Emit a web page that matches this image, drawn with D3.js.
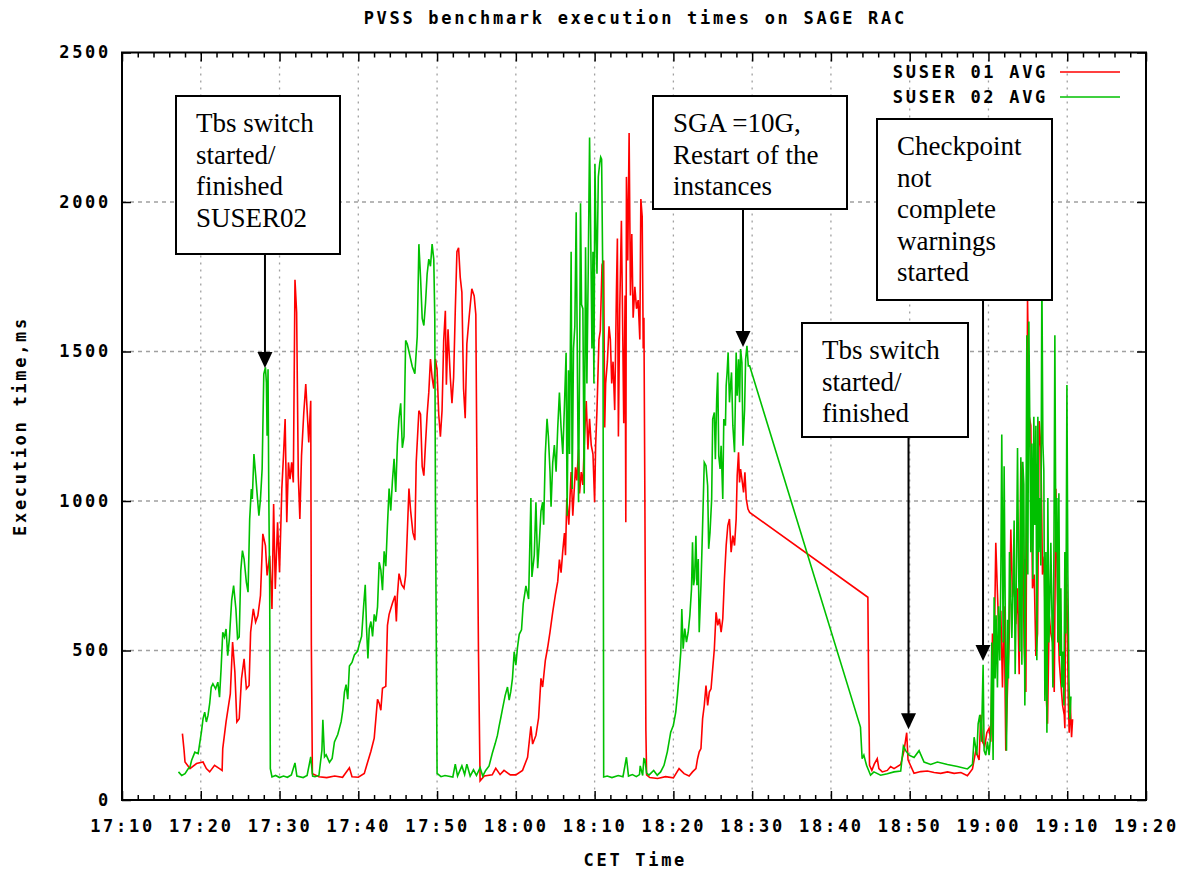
<!DOCTYPE html>
<html>
<head>
<meta charset="utf-8">
<script src="https://cdn.jsdelivr.net/npm/d3@7"></script>
<style>
body { margin: 0; background: #fff; }
.mono { font-family: "DejaVu Sans Mono", monospace; font-weight: bold; font-size: 17px; letter-spacing: 2.7px; fill: #000; }
.note { font-family: "Liberation Serif", "Times New Roman", serif; font-size: 27px; fill: #000; }
</style>
</head>
<body>
<div id="wrapper"></div>
<script>
const title = "PVSS benchmark execution times on SAGE RAC";
const xLabel = "CET Time";
const yLabel = "Execution time,ms";
const seriesNames = ["SUSER 01 AVG", "SUSER 02 AVG"];
const seriesColors = ["#ff0000", "#00c000"];
const xTickLabels = ["17:10", "17:20", "17:30", "17:40", "17:50", "18:00", "18:10",
    "18:20", "18:30", "18:40", "18:50", "19:00", "19:10", "19:20"];
const yTickValues = [0, 500, 1000, 1500, 2000, 2500];

// [minutes after 17:00, execution time ms]
const suser01 = [[17.67,222],[17.88,166],[18.0,127],[18.63,105],[19.46,122],[20.29,127],[20.71,105],[21.13,94],[21.75,116],[22.38,105],[22.71,99],[22.79,172],[23.21,261],[23.75,355],[24.04,528],[24.33,428],[24.58,261],[24.88,272],[25.17,405],[25.5,472],[25.79,372],[26.13,383],[26.33,561],[26.67,639],[26.96,595],[27.25,617],[27.58,684],[27.88,890],[28.21,851],[28.42,751],[28.75,817],[29.04,639],[29.25,990],[29.46,706],[29.75,929],[30.0,762],[30.29,1040],[30.5,1151],[30.71,1274],[30.92,929],[31.13,1129],[31.33,1073],[31.54,1129],[31.75,1062],[31.96,1740],[32.17,1630],[32.38,1085],[32.58,940],[32.79,1151],[33.08,1296],[33.33,1391],[33.54,1285],[33.71,1196],[33.96,1335],[34.04,517],[34.17,88],
    [35.0,78],[36.0,75],[37.0,80],[38.0,76],[38.87,108],[39.2,78],[40.0,76],[40.76,89],[41.18,126],[41.6,163],[42.02,207],[42.44,337],[42.65,324],[42.86,300],[43.07,374],[43.49,380],[43.7,584],[43.91,621],[44.33,658],[44.66,683],[44.83,597],[44.96,683],[45.17,757],[45.5,720],[45.8,708],[46.01,751],[46.22,894],[46.43,1042],[46.64,968],[46.93,894],[47.18,869],[47.35,1129],[47.69,1302],[47.9,1290],[48.11,1116],[48.32,1085],[48.53,1191],[48.74,1290],[48.95,1364],[49.16,1475],[49.37,1413],[49.58,1376],[49.79,1475],[50.0,1438],[50.21,1290],[50.42,1215],[50.63,1302],[50.84,1537],[51.05,1636],[51.18,1389],[51.39,1574],[51.68,1413],[51.89,1327],[52.1,1413],[52.31,1636],[52.52,1834],[52.73,1847],[52.94,1748],[53.15,1698],[53.36,1376],[53.57,1277],[53.78,1525],[54.08,1618],[54.41,1710],[54.71,1686],[54.92,1624],[55.04,1178],[55.25,510],[55.46,64],
    [56.0,80],[57.0,84],[57.45,106],[58.0,85],[58.5,99],[59.3,84],[60.0,84],[60.85,99],[61.49,143],[61.91,246],[62.13,187],[62.55,216],[62.89,275],[63.19,407],[63.4,378],[63.74,466],[64.04,510],[64.34,562],[64.68,628],[65.02,687],[65.32,731],[65.53,804],[65.74,760],[65.96,834],[66.17,893],[66.3,819],[66.47,1009],[66.72,921],[67.02,1097],[67.23,951],[67.57,1113],[67.74,1069],[67.96,1172],[68.09,1025],[68.3,1097],[68.51,1054],[68.72,1216],[68.94,1334],[69.15,1172],[69.36,1275],[69.57,1187],[69.79,1157],[70.0,996],[70.13,1187],[70.3,1304],[70.55,1540],[70.72,1569],[70.94,1790],[71.15,1804],[71.28,1246],[71.4,1393],[71.62,1466],[71.83,1584],[72.0,1540],[72.17,1393],[72.34,1466],[72.55,1304],[72.77,1701],[72.89,1878],[73.02,1216],[73.19,1643],[73.4,1937],[73.53,1657],[73.7,1260],[73.87,1687],[73.96,929],[74.04,2084],[74.21,1804],[74.38,2231],[74.55,1687],[74.72,1893],[74.89,1613],[75.11,1716],[75.32,1643],[75.53,1672],[75.74,1540],[75.87,2010],[76.04,1951],[76.17,1510],[76.26,1613],[76.38,1010],[76.51,231],[76.6,84],
    [77.0,75],[78.0,72],[79.0,78],[80.0,74],[80.72,105],[81.36,88],[82.0,80],[82.43,94],[82.86,105],[83.07,138],[83.28,161],[83.5,172],[83.71,272],[83.92,316],[84.14,383],[84.35,316],[84.56,361],[84.78,372],[84.99,439],[85.2,506],[85.42,628],[85.63,584],[85.84,606],[86.06,561],[86.27,606],[86.48,740],[86.7,851],[86.91,918],[87.12,940],[87.33,829],[87.55,884],[87.76,851],[87.97,940],[88.1,1085],[88.27,1163],[88.4,1062],[88.53,1107],[88.7,1074],[88.91,1029],[89.08,1096],[89.25,1007],[89.47,973],[89.68,962],
    [104.69,678],[104.78,405],[104.9,116],[105.2,99],[105.5,120],[105.88,138],[106.09,105],[106.52,94],[107.16,99],[107.58,112],[108.01,105],[108.86,119],[109.28,165],[109.62,225],[109.79,134],[110.55,89],[111.4,95],[112.25,97],[113.1,92],[113.94,89],[114.8,94],[115.64,89],[116.5,92],[117.33,81],[117.97,104],[118.39,165],[118.81,134],[119.03,285],[119.24,195],[119.53,180],[119.79,225],[120.08,240],[120.3,195],[120.51,557],[120.72,467],[120.93,860],[121.14,693],[121.36,527],[121.57,633],[121.78,376],[121.99,648],[122.2,165],[122.42,376],[122.63,542],[122.84,905],[123.05,678],[123.26,739],[123.47,588],[123.69,708],[123.9,421],[124.11,1131],[124.32,950],[124.53,512],[124.75,361],[124.96,1675],[125.17,1283],[125.38,1252],[125.59,708],[125.81,754],[126.02,482],[126.23,557],[126.44,1267],[126.65,1177],[126.86,754],[127.08,814],[127.29,376],[127.5,255],[127.71,618],[127.92,557],[128.14,527],[128.35,361],[128.56,1041],[128.77,678],[128.98,467],[129.19,391],[129.41,316],[129.62,285],[129.7,240],[129.83,822],[129.96,678],[130.13,346],[130.25,225],[130.38,331],[130.55,210],[130.68,270]];

const suser02 = [[17.17,94],[17.58,82],[18.0,88],[18.42,105],[18.63,110],[18.83,132],[19.25,160],[19.67,155],[20.08,227],[20.29,272],[20.5,294],[20.71,261],[20.92,283],[21.13,322],[21.33,377],[21.54,389],[21.88,372],[22.17,394],[22.38,344],[22.58,439],[22.79,561],[23.0,545],[23.21,572],[23.42,483],[23.63,539],[23.92,667],[24.17,717],[24.46,639],[24.67,539],[24.88,545],[25.08,767],[25.29,834],[25.5,806],[25.79,728],[26.0,695],[26.21,940],[26.42,1040],[26.54,1007],[26.75,1157],[26.96,1090],[27.17,1018],[27.38,951],[27.58,1007],[27.79,1107],[28.0,1424],[28.21,1447],[28.33,1396],[28.42,1218],[28.54,1441],[28.63,1040],[28.75,706],[28.83,105],[29.04,77],[29.5,82],[30.0,75],[30.5,80],[31.0,76],[31.5,84],[31.96,124],[32.2,80],[33.0,75],[33.5,82],[33.96,144],[34.2,80],[34.5,78],[35.0,82],[35.38,167],[35.5,268],[35.71,144],
    [35.92,151],[36.34,126],[36.68,139],[36.97,194],[37.39,219],[37.82,262],[38.03,300],[38.24,361],[38.45,386],[38.66,337],[38.87,448],[39.2,460],[39.5,485],[39.92,498],[40.13,522],[40.42,547],[40.67,646],[40.88,720],[41.05,572],[41.22,473],[41.39,572],[41.6,597],[41.81,547],[42.02,621],[42.23,597],[42.44,646],[42.65,795],[42.86,770],[43.07,702],[43.28,832],[43.49,782],[43.7,918],[43.91,1042],[44.12,968],[44.33,1067],[44.54,1141],[44.75,1030],[44.96,1191],[45.17,1277],[45.38,1327],[45.59,1178],[45.8,1215],[46.01,1537],[46.22,1525],[46.43,1500],[46.85,1450],[47.18,1426],[47.48,1550],[47.69,1859],[47.9,1748],[48.11,1611],[48.32,1587],[48.53,1661],[48.74,1760],[48.95,1809],[49.16,1785],[49.37,1859],[49.58,1809],[49.71,1611],[49.79,1017],[50.0,89],[50.5,78],[51.0,82],[52.0,77],[52.31,120],[52.6,80],[53.15,114],[53.5,85],[53.78,120],[54.2,80],[54.62,101],[55.0,82],[55.46,108],[55.8,80],
    [56.17,99],[56.6,114],[57.02,157],[57.36,187],[57.66,216],[57.87,246],[58.09,275],[58.3,304],[58.64,349],[58.94,378],[59.15,334],[59.36,363],[59.57,407],[59.79,496],[60.0,451],[60.21,510],[60.43,554],[60.72,569],[60.94,657],[61.28,716],[61.62,672],[61.91,1010],[62.04,746],[62.34,819],[62.55,996],[62.77,775],[62.98,863],[63.19,966],[63.4,996],[63.53,921],[63.74,1157],[63.96,1275],[64.13,1216],[64.34,1098],[64.47,981],[64.68,1128],[64.89,1187],[65.11,1098],[65.32,1246],[65.53,1363],[65.74,1246],[65.96,1157],[66.17,1319],[66.38,1496],[66.51,951],[66.68,1437],[66.81,1157],[67.02,1834],[67.15,1040],[67.32,1510],[67.49,1584],[67.66,1966],[67.83,1393],[67.96,996],[68.09,1451],[68.21,1996],[68.34,1657],[68.51,1643],[68.68,1025],[68.85,1849],[69.02,1393],[69.19,1775],[69.36,2216],[69.53,1834],[69.66,1510],[69.79,1834],[69.91,1393],[70.04,2128],[70.17,1907],[70.3,1760],[70.47,2084],[70.64,2128],[70.77,2150],[70.89,2143],[71.06,1687],[71.15,77],[71.6,80],[72.2,75],[73.0,82],[73.6,78],[74.04,143],[74.3,80],[74.8,85],[75.3,78],[75.7,85],[75.79,114],[76.1,82],[76.25,138],[76.38,136],[76.6,90],
    [76.9,83],[77.5,99],[77.95,83],[78.38,94],[78.81,116],[79.23,161],[79.66,227],[80.0,250],[80.3,294],[80.51,350],[80.72,417],[80.94,495],[81.07,639],[81.24,506],[81.45,573],[81.66,528],[81.88,561],[82.09,617],[82.3,706],[82.43,862],[82.56,718],[82.69,740],[82.86,884],[82.99,718],[83.16,806],[83.28,561],[83.5,718],[83.71,918],[83.92,1129],[84.14,1118],[84.35,1051],[84.48,840],[84.65,895],[84.86,1007],[84.99,1274],[85.2,1296],[85.33,1140],[85.5,1341],[85.63,1430],[85.76,1151],[85.93,1107],[86.06,1185],[86.27,1007],[86.4,1274],[86.61,1252],[86.7,1385],[86.82,1430],[86.95,1497],[87.12,1330],[87.25,1385],[87.38,1430],[87.55,1252],[87.76,1163],[87.97,1497],[88.1,1352],[88.27,1474],[88.4,1330],[88.53,1508],[88.7,1463],[88.83,1185],[89.04,1307],[89.17,1474],[89.34,1519],[89.51,1452],[89.68,1452],
    [103.75,244],[103.96,138],[104.18,150],[104.52,116],[105.03,83],[105.46,94],[106.31,83],[107.16,88],[108.01,94],[108.86,97],[109.2,180],[109.49,165],[109.92,150],[110.55,142],[111.19,165],[111.82,127],[112.67,119],[113.52,127],[114.79,119],[116.06,112],[117.33,104],[117.97,119],[118.18,210],[118.52,150],[118.69,255],[118.9,285],[119.11,195],[119.32,452],[119.45,165],[119.66,150],[119.87,195],[120.08,150],[120.3,225],[120.42,527],[120.59,134],[120.72,678],[120.85,406],[120.97,618],[121.14,376],[121.27,648],[121.44,467],[121.57,754],[121.69,1222],[121.86,527],[121.99,1116],[122.16,527],[122.29,165],[122.42,603],[122.54,406],[122.67,829],[122.84,678],[122.97,542],[123.14,739],[123.26,935],[123.39,421],[123.52,678],[123.69,1177],[123.81,814],[123.98,497],[124.11,1146],[124.24,452],[124.36,1131],[124.49,1056],[124.62,316],[124.75,829],[124.87,1554],[125.0,754],[125.13,1600],[125.25,1252],[125.38,829],[125.51,1192],[125.64,739],[125.76,1282],[125.89,920],[126.02,1252],[126.14,467],[126.27,1282],[126.4,829],[126.53,1010],[126.65,784],[126.78,1760],[126.91,1192],[127.03,1101],[127.16,331],[127.29,829],[127.42,225],[127.54,1010],[127.67,527],[127.8,678],[127.92,860],[128.05,633],[128.18,376],[128.31,829],[128.43,1554],[128.56,829],[128.69,1010],[128.81,527],[128.94,1026],[129.07,482],[129.19,708],[129.32,376],[129.45,497],[129.58,316],[129.7,829],[129.83,557],[129.96,1388],[130.08,754],[130.21,406],[130.34,270],[130.47,346]];

// annotation texts and where their arrows point (minutes after 17:00, ms)
const noteTexts = [
    ["Tbs switch", "started/", "finished", "SUSER02"],
    ["SGA =10G,", "Restart of the", "instances"],
    ["Checkpoint", "not", "complete", "warnings", "started"],
    ["Tbs switch", "started/", "finished"]
];
const noteTargets = [[28.15, 1445], [88.84, 1515], [119.31, 465], [109.85, 237]];

const dims = { width: 1182, height: 871, left: 122, right: 1146, top: 52.5, bottom: 800 };
const noteBoxes = [
    { x: 176, y: 96, w: 164, h: 158 },
    { x: 653, y: 96, w: 194, h: 113 },
    { x: 877, y: 119, w: 175, h: 181 },
    { x: 802, y: 323, w: 166, h: 114 }
];

const parseTime = d3.timeParse("%H:%M");
const t0 = parseTime("17:00");
const toDate = m => new Date(t0.getTime() + m * 60000);

const xTicks = xTickLabels.map(parseTime);
const x = d3.scaleTime()
    .domain([xTicks[0], xTicks[xTicks.length - 1]])
    .range([dims.left, dims.right]);
const y = d3.scaleLinear().domain([0, 2500]).range([dims.bottom, dims.top]);

const svg = d3.select("#wrapper").append("svg")
    .attr("width", dims.width)
    .attr("height", dims.height)
    .style("display", "block")
    .style("background", "#fff");

// grid
const grid = svg.append("g").attr("stroke", "#a0a0a0").attr("stroke-width", 1.3);
grid.selectAll(".vg").data(xTicks.slice(1, -1)).join("line")
    .attr("x1", d => x(d)).attr("x2", d => x(d))
    .attr("y1", dims.top).attr("y2", dims.bottom)
    .attr("stroke-dasharray", "2,5");
grid.selectAll(".hg").data(yTickValues.slice(1, -1)).join("line")
    .attr("x1", dims.left).attr("x2", dims.right)
    .attr("y1", d => y(d)).attr("y2", d => y(d))
    .attr("stroke-dasharray", "4,4");

// data
const line = d3.line().x(d => x(toDate(d[0]))).y(d => y(d[1]));
[suser01, suser02].forEach((s, i) => {
    svg.append("path")
        .datum(s)
        .attr("d", line)
        .attr("fill", "none")
        .attr("stroke", seriesColors[i])
        .attr("stroke-width", 1.6);
});

// axes
const minorTicks = d3.timeMinute.every(2).range(xTicks[0], xTicks[xTicks.length - 1])
    .filter(d => d.getMinutes() % 10 !== 0);

function styleAxis(g) {
    g.select(".domain").remove();
    g.selectAll("line").attr("stroke", "#000").attr("stroke-width", 1.5);
    g.selectAll("text").attr("class", "mono");
}

svg.append("g").attr("transform", `translate(0,${dims.bottom})`)
    .call(d3.axisBottom(x).tickValues(xTicks).tickFormat(d3.timeFormat("%H:%M"))
        .tickSizeInner(-9).tickSizeOuter(0).tickPadding(20))
    .call(styleAxis);
svg.append("g").attr("transform", `translate(0,${dims.bottom})`)
    .call(d3.axisBottom(x).tickValues(minorTicks).tickFormat("").tickSizeInner(-5).tickSizeOuter(0))
    .call(styleAxis);
svg.append("g").attr("transform", `translate(0,${dims.top})`)
    .call(d3.axisTop(x).tickValues(xTicks).tickFormat("").tickSizeInner(-9).tickSizeOuter(0))
    .call(styleAxis);
svg.append("g").attr("transform", `translate(0,${dims.top})`)
    .call(d3.axisTop(x).tickValues(minorTicks).tickFormat("").tickSizeInner(-5).tickSizeOuter(0))
    .call(styleAxis);
svg.append("g").attr("transform", `translate(${dims.left},0)`)
    .call(d3.axisLeft(y).tickValues(yTickValues).tickFormat(d3.format("d"))
        .tickSizeInner(-9).tickSizeOuter(0).tickPadding(11))
    .call(styleAxis);
svg.append("g").attr("transform", `translate(${dims.right},0)`)
    .call(d3.axisRight(y).tickValues(yTickValues).tickFormat("").tickSizeInner(-9).tickSizeOuter(0))
    .call(styleAxis);

svg.append("rect")
    .attr("x", dims.left).attr("y", dims.top)
    .attr("width", dims.right - dims.left).attr("height", dims.bottom - dims.top)
    .attr("fill", "none").attr("stroke", "#000").attr("stroke-width", 2);

// titles
const midX = (dims.left + dims.right) / 2 + 1.3;
svg.append("text").attr("class", "mono").attr("x", midX).attr("y", 24)
    .attr("text-anchor", "middle").text(title);
svg.append("text").attr("class", "mono").attr("x", midX).attr("y", 866)
    .attr("text-anchor", "middle").text(xLabel);
svg.append("text").attr("class", "mono")
    .attr("transform", "translate(26,426) rotate(-90)")
    .attr("text-anchor", "middle").text(yLabel);

// legend
const legend = svg.append("g");
seriesNames.forEach((name, i) => {
    const ly = 72 + i * 25;
    legend.append("text").attr("class", "mono")
        .attr("x", 1048).attr("y", ly + 6)
        .attr("text-anchor", "end").text(name);
    legend.append("line")
        .attr("x1", 1060).attr("x2", 1120).attr("y1", ly).attr("y2", ly)
        .attr("stroke", seriesColors[i]).attr("stroke-width", 1.6);
});

// annotations
noteTexts.forEach((lines, i) => {
    const b = noteBoxes[i];
    const g = svg.append("g");
    g.append("rect")
        .attr("x", b.x).attr("y", b.y).attr("width", b.w).attr("height", b.h)
        .attr("fill", "#fff").attr("stroke", "#000").attr("stroke-width", 2);
    lines.forEach((t, j) => {
        g.append("text").attr("class", "note")
            .attr("x", b.x + 20).attr("y", b.y + 36 + j * 31.5)
            .text(t);
    });
    const ax = x(toDate(noteTargets[i][0]));
    const tip = y(noteTargets[i][1]);
    g.append("line")
        .attr("x1", ax).attr("x2", ax).attr("y1", b.y + b.h).attr("y2", tip - 10)
        .attr("stroke", "#000").attr("stroke-width", 2);
    g.append("path")
        .attr("d", `M${ax - 7.5},${tip - 16}L${ax + 7.5},${tip - 16}L${ax},${tip}Z`)
        .attr("fill", "#000");
});
</script>
</body>
</html>
